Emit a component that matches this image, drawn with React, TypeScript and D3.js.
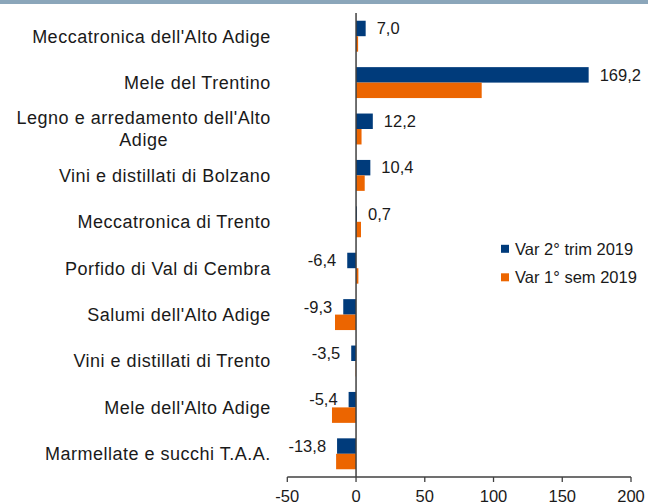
import React, { useEffect, useRef } from "react";
import * as d3 from "d3";

const categories = [
  "Meccatronica dell'Alto Adige",
  "Mele del Trentino",
  "Legno e arredamento dell'Alto\nAdige",
  "Vini e distillati di Bolzano",
  "Meccatronica di Trento",
  "Porfido di Val di Cembra",
  "Salumi dell'Alto Adige",
  "Vini e distillati di Trento",
  "Mele dell'Alto Adige",
  "Marmellate e succhi T.A.A.",
];
const seriesNames = ["Var 2° trim 2019", "Var 1° sem 2019"];
const trim2 = [7.0, 169.2, 12.2, 10.4, 0.7, -6.4, -9.3, -3.5, -5.4, -13.8];
const sem1 = [1.5, 91.4, 4.0, 6.3, 3.6, 1.7, -15.3, -0.3, -17.5, -14.5];
const xTicks = [-50, 0, 50, 100, 150, 200];
const colors = ["#003b7b", "#ec6500"];

const W = 648;
const H = 504;
const FONT = "'Liberation Sans', Arial, sans-serif";

export default function App() {
  const ref = useRef<SVGSVGElement>(null);

  useEffect(() => {
    const svg = d3.select(ref.current);
    svg.selectAll("*").remove();

    const x = d3.scaleLinear().domain([-50, 200]).range([287.3, 631]);
    const y0 = d3.scaleBand<string>().domain(categories).range([13, 477]).padding(0);
    const y1 = d3
      .scaleBand<string>()
      .domain(seriesNames)
      .range([0, y0.bandwidth()])
      .paddingInner(0)
      .paddingOuter(0.5);

    // top stripe
    svg.append("rect").attr("x", 0).attr("y", 0).attr("width", W).attr("height", 4).attr("fill", "#8ba6ba");

    const values = [trim2, sem1];
    values.forEach((vals, si) => {
      svg
        .append("g")
        .selectAll("rect")
        .data(vals)
        .join("rect")
        .attr("x", (d) => Math.min(x(0), x(d)))
        .attr("width", (d) => Math.abs(x(d) - x(0)))
        .attr("y", (_d, i) => (y0(categories[i]) as number) + (y1(seriesNames[si]) as number))
        .attr("height", y1.bandwidth())
        .attr("fill", colors[si]);
    });

    // value labels for trim2
    svg
      .append("g")
      .selectAll("text")
      .data(trim2)
      .join("text")
      .attr("x", (d) => (d >= 0 ? x(d) + 11 : x(d) - 11))
      .attr("y", (_d, i) => (y0(categories[i]) as number) + (y1(seriesNames[0]) as number) + y1.bandwidth() / 2)
      .attr("dy", "0.35em")
      .attr("text-anchor", (d) => (d >= 0 ? "start" : "end"))
      .attr("font-family", FONT)
      .attr("font-size", 16.5)
      .attr("fill", "#1a1a1a")
      .text((d) => d.toFixed(1).replace(".", ","));

    // zero line
    svg
      .append("line")
      .attr("x1", x(0))
      .attr("x2", x(0))
      .attr("y1", 13)
      .attr("y2", 477)
      .attr("stroke", "#404040")
      .attr("stroke-width", 1.5);

    // x axis
    const ax = svg.append("g").attr("transform", "translate(0,477)");
    ax.append("line")
      .attr("x1", x(-50))
      .attr("x2", x(200))
      .attr("stroke", "#404040")
      .attr("stroke-width", 1.3);
    ax.selectAll("line.tick")
      .data(xTicks)
      .join("line")
      .attr("class", "tick")
      .attr("x1", (d) => x(d))
      .attr("x2", (d) => x(d))
      .attr("y1", 0)
      .attr("y2", 5)
      .attr("stroke", "#404040")
      .attr("stroke-width", 1.3);
    ax.selectAll("text")
      .data(xTicks)
      .join("text")
      .attr("x", (d) => x(d))
      .attr("y", 24.5)
      .attr("text-anchor", "middle")
      .attr("font-family", FONT)
      .attr("font-size", 16.5)
      .attr("fill", "#1a1a1a")
      .text((d) => String(d));

    // category labels
    const labelRight = 270.7;
    const cg = svg.append("g");
    categories.forEach((c) => {
      const lines = c.split("\n");
      const cy = (y0(c) as number) + y0.bandwidth() / 2;
      const lh = 22;
      if (lines.length === 1) {
        cg.append("text")
          .attr("x", labelRight)
          .attr("y", cy)
          .attr("dy", "0.35em")
          .attr("text-anchor", "end")
          .attr("font-family", FONT)
          .attr("font-size", 18)
          .attr("letter-spacing", 0.5)
          .attr("fill", "#1a1a1a")
          .text(c);
      } else {
        const ts = lines.map((l, li) =>
          cg
            .append("text")
            .attr("y", cy + (li - (lines.length - 1) / 2) * lh)
            .attr("dy", "0.35em")
            .attr("text-anchor", "middle")
            .attr("font-family", FONT)
            .attr("font-size", 18)
            .attr("letter-spacing", 0.5)
            .attr("fill", "#1a1a1a")
            .text(l)
        );
        const widths = ts.map((t) => (t.node() as SVGTextElement).getComputedTextLength());
        const maxW = Math.max(...widths);
        ts.forEach((t) => t.attr("x", labelRight - maxW / 2));
      }
    });

    // legend
    const lg = svg.append("g");
    seriesNames.forEach((s, i) => {
      const ly = 248.8 + i * 28.5;
      lg.append("rect")
        .attr("x", 501)
        .attr("y", ly - 4)
        .attr("width", 8)
        .attr("height", 8)
        .attr("fill", colors[i]);
      lg.append("text")
        .attr("x", 515)
        .attr("y", ly)
        .attr("dy", "0.35em")
        .attr("font-family", FONT)
        .attr("font-size", 16.5)
        .attr("fill", "#1a1a1a")
        .text(s);
    });
  }, []);

  return (
    <svg
      ref={ref}
      width={W}
      height={H}
      style={{ position: "absolute", left: 0, top: 0, background: "#ffffff" }}
    />
  );
}
